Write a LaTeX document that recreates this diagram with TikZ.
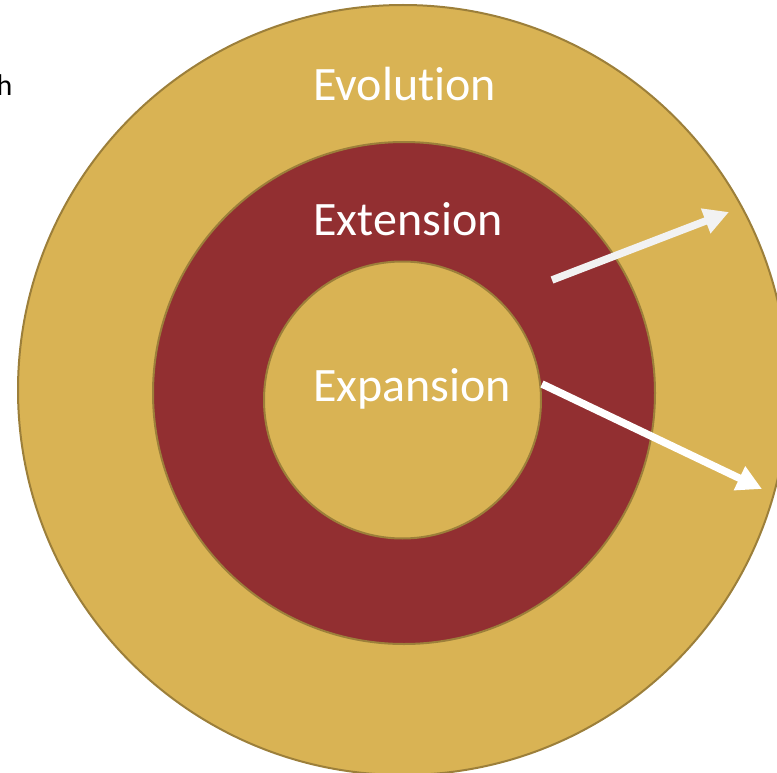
\documentclass[tikz,border=0pt]{standalone}
\usepackage{fontspec}
\setmainfont{Carlito}[Ligatures={NoCommon}]
\usetikzlibrary{arrows.meta}
\definecolor{gold}{HTML}{D9B354}
\definecolor{wine}{HTML}{922F31}
\definecolor{rim}{HTML}{9C7F3A}
\definecolor{arrowgray}{HTML}{F2F2F2}
\tikzset{
  ring/.style={circle, draw=rim, line width=2pt, inner sep=0pt},
  lbl/.style={anchor=base west, text=white, font=\fontsize{48}{52}\selectfont, inner sep=0pt},
  bigarrow/.style={line width=7.5pt, -{Triangle[length=25pt,width=25pt]}},
}
\begin{document}
\begin{tikzpicture}[x=1pt,y=-1pt]
\useasboundingbox (0,0) rectangle (777,773);
\clip (0,0) rectangle (777,773);
\node[ring, fill=gold, minimum size=770pt] (outer) at (403,390) {};
\node[ring, fill=wine, minimum size=502pt] (middle) at (404,393) {};
\node[ring, fill=gold, minimum size=277pt] (inner) at (402.5,400) {};
\node[anchor=base east, inner sep=0pt, font=\fontsize{30}{34}\selectfont] (cut) at (12.5,96) {h};
\node[lbl] (evo) at (313,101) {Evolution};
\node[lbl] (ext) at (313,235) {Extension};
\node[lbl] (exp) at (313,401) {Expansion};
\coordinate (a1s) at (552,280);
\coordinate (a1e) at (729,212);
\coordinate (a2s) at (542,384);
\coordinate (a2e) at (762,489);
\draw[bigarrow, arrowgray] (a1s) -- (a1e);
\draw[bigarrow, white] (a2s) -- (a2e);
\end{tikzpicture}
\end{document}
